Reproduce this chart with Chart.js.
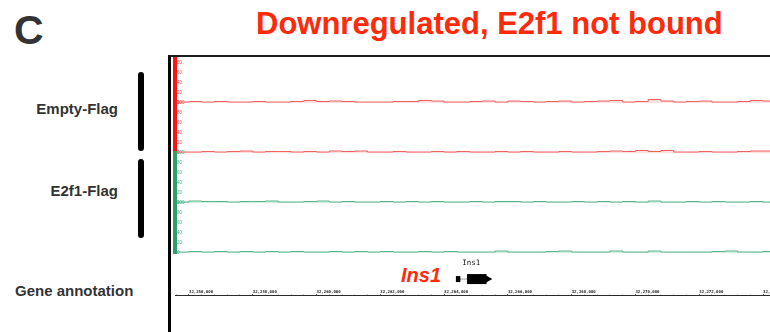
<!DOCTYPE html>
<html>
<head>
<meta charset="utf-8">
<script src="https://cdn.jsdelivr.net/npm/chart.js@4.4.1/dist/chart.umd.min.js"></script>
<style>
  html, body { margin: 0; padding: 0; background: #fff; }
  body { width: 770px; height: 332px; position: relative; overflow: hidden; font-family: "Liberation Sans", Arial, sans-serif; }
  .letter { position: absolute; left: 14px; top: 10px; font-size: 41px; line-height: 41px; font-weight: bold; color: #333; }
  .title { position: absolute; left: 256px; top: 8px; font-size: 31px; line-height: 31px; font-weight: bold; color: #ff2a0a; white-space: nowrap; }
  .track-label { position: absolute; font-size: 15px; line-height: 15px; font-weight: bold; color: #333; white-space: nowrap; }
  .bracket { position: absolute; left: 138px; width: 6px; background: #000; border-radius: 3px; }
  .gene-tag { position: absolute; left: 401px; top: 265px; font-size: 20px; line-height: 20px; font-weight: bold; font-style: italic; color: #ff2a0a; }
  #panel { position: absolute; left: 168px; top: 55px; width: 599px; height: 275px; border-top: 2px solid #1e1e1e; border-left: 3px solid #000; }
  #panel canvas { display: block; }
</style>
</head>
<body>
<div class="letter">C</div>
<div class="title">Downregulated, E2f1 not bound</div>

<div class="bracket" style="top:72px; height:79px;"></div>
<div class="bracket" style="top:159px; height:79px;"></div>
<div class="track-label" style="right:652px; top:101px;">Empty-Flag</div>
<div class="track-label" style="right:652px; top:183px;">E2f1-Flag</div>
<div class="track-label" style="left:15px; top:283px;">Gene annotation</div>
<div class="gene-tag">Ins1</div>

<div id="panel"><canvas id="tracks" width="599" height="275"></canvas></div>

<script>
// visible locus (bp)
const locus = [32255562, 32274219];
const rulerTicks = [32256000, 32258000, 32260000, 32262000, 32264000,
  32266000, 32268000, 32270000, 32272000, 32274000];

// 400 bp coverage bins
const binStarts = [32255600, 32256000, 32256400, 32256800, 32257200, 32257600, 32258000, 32258400,
  32258800, 32259200, 32259600, 32260000, 32260400, 32260800, 32261200, 32261600,
  32262000, 32262400, 32262800, 32263200, 32263600, 32264000, 32264400, 32264800,
  32265200, 32265600, 32266000, 32266400, 32266800, 32267200, 32267600, 32268000,
  32268400, 32268800, 32269200, 32269600, 32270000, 32270400, 32270800, 32271200,
  32271600, 32272000, 32272400, 32272800, 32273200, 32273600, 32274000, 32274400];

const emptyRep1 = [2,3,2,3,2,2,3,2,2,3,5,3,4,3,2,2,2,3,3,5,4,2,2,3,4,2,4,3,2,3,4,2,3,4,5,2,3,7,4,2,3,4,2,2,3,5,4,4];
const emptyRep2 = [2,2,3,2,3,4,2,3,3,2,3,2,4,3,4,2,2,3,2,2,3,2,3,2,2,3,2,3,2,2,3,2,2,3,4,3,5,3,5,2,2,3,2,2,3,4,4,3];
const e2f1Rep1  = [2,4,3,3,2,3,3,4,2,2,3,4,2,3,2,2,3,2,3,2,3,2,2,3,2,3,3,2,3,2,2,3,2,3,2,3,2,4,2,2,3,2,3,2,2,3,2,2];
const e2f1Rep2  = [2,3,2,3,2,3,2,3,2,3,2,2,3,2,3,2,3,2,2,3,2,3,2,2,2,4,2,2,2,3,4,2,2,2,4,2,2,4,2,2,2,2,3,4,2,2,3,3];

// gene model
const geneName = 'Ins1';
const ins1Utr = [32264370, 32264510];
const ins1Intron = [32264510, 32264720];
const ins1Cds = [32264720, 32265330];

const RED = '#ff1414';
const GREEN = '#2f9e68';
const GENE_ROW = 0.67;

// keep the chart area from shrinking around tick labels
const noPad = (s) => { s.paddingLeft = 0; s.paddingRight = 0; s.paddingTop = 0; s.paddingBottom = 0; };

function coverage(values, axis, line, fillCol) {
  return {
    type: 'line',
    data: values.map((v, i) => ({ x: binStarts[i], y: v })),
    yAxisID: axis,
    stepped: true,
    borderColor: line,
    backgroundColor: fillCol,
    borderWidth: 1,
    fill: 'origin',
    pointRadius: 0,
  };
}

function segment(range, width, color, dash) {
  return {
    type: 'line',
    data: [{ x: range[0], y: GENE_ROW }, { x: range[1], y: GENE_ROW }],
    yAxisID: 'gy',
    borderColor: color,
    borderWidth: width,
    borderCapStyle: 'butt',
    borderDash: dash || [],
    pointRadius: 0,
    fill: false,
  };
}

function trackAxis(weight, max, color, tickColor) {
  return {
    type: 'linear',
    position: 'left',
    stack: 'tracks',
    stackWeight: max === 100 ? 50 : 46,
    weight: weight,
    min: 0,
    max: max,
    afterFit: noPad,
    grid: { display: false, drawTicks: false },
    border: { display: true, color: color, width: 4 },
    ticks: {
      stepSize: 20,
      includeBounds: false,
      autoSkip: false,
      mirror: true,
      padding: 2,
      color: tickColor,
      font: { size: 4.5 },
    },
  };
}

const geneLabel = {
  id: 'geneLabel',
  afterDatasetsDraw(chart) {
    const { ctx, scales } = chart;
    ctx.save();
    ctx.font = '7.5px "DejaVu Sans Mono", monospace';
    ctx.fillStyle = '#111';
    ctx.textAlign = 'center';
    ctx.textBaseline = 'middle';
    ctx.fillText(geneName, scales.x.getPixelForValue((ins1Utr[0] + ins1Cds[1]) / 2), scales.gy.getPixelForValue(0.873));
    ctx.restore();
  }
};

const ctx = document.getElementById('tracks').getContext('2d');
const browser = new Chart(ctx, {
  data: {
    datasets: [
      coverage(emptyRep1, 't1', 'rgba(240,70,70,0.85)', 'rgba(255,150,150,0.3)'),
      coverage(emptyRep2, 't2', 'rgba(240,70,70,0.85)', 'rgba(255,150,150,0.3)'),
      coverage(e2f1Rep1, 't3', 'rgba(50,165,110,0.8)', 'rgba(120,200,155,0.3)'),
      coverage(e2f1Rep2, 't4', 'rgba(50,165,110,0.8)', 'rgba(120,200,155,0.3)'),
      segment(ins1Utr, 6, '#000'),
      segment(ins1Intron, 1, '#444', [1, 1]),
      segment(ins1Cds, 10, '#000'),
      {
        type: 'line',
        data: [{ x: ins1Cds[1], y: GENE_ROW }],
        yAxisID: 'gy',
        showLine: false,
        pointStyle: 'triangle',
        rotation: 90,
        pointRadius: 5.8,
        pointBackgroundColor: '#000',
        pointBorderWidth: 0,
      },
    ],
  },
  options: {
    responsive: false,
    animation: false,
    layout: { padding: 0, autoPadding: false },
    plugins: { legend: { display: false }, tooltip: { enabled: false } },
    scales: {
      x: {
        type: 'linear',
        min: locus[0],
        max: locus[1],
        position: { gy: 0.456 },
        afterBuildTicks: (s) => { s.ticks = rulerTicks.map(v => ({ value: v })); },
        afterFit: noPad,
        grid: { drawOnChartArea: false, drawTicks: true, tickLength: -2, color: '#333' },
        border: { display: true, color: '#2b2b2b', width: 1 },
        ticks: {
          autoSkip: false,
          maxRotation: 0,
          align: 'start',
          padding: -4,
          color: '#222',
          font: { family: '"DejaVu Sans Mono", monospace', size: 4, weight: 'bold' },
          callback: (v) => v.toLocaleString('en-US'),
        },
      },
      xm: {
        type: 'linear',
        axis: 'x',
        min: locus[0],
        max: locus[1],
        position: { gy: 0.456 },
        afterBuildTicks: (s) => { s.ticks = binStarts.filter(v => v >= locus[0] && v <= locus[1]).map(v => ({ value: v })); },
        afterFit: noPad,
        grid: { drawOnChartArea: false, drawTicks: true, tickLength: -1.5, color: '#999' },
        border: { display: false },
        ticks: { display: false },
      },
      t1: trackAxis(5, 92, RED, 'rgba(255,50,50,0.9)'),
      t2: trackAxis(4, 100, RED, 'rgba(255,50,50,0.9)'),
      t3: trackAxis(3, 100, GREEN, 'rgba(50,165,110,0.9)'),
      t4: trackAxis(2, 100, GREEN, 'rgba(50,165,110,0.9)'),
      gy: {
        type: 'linear',
        position: 'left',
        stack: 'tracks',
        stackWeight: 79,
        weight: 1,
        min: 0,
        max: 1,
        afterFit: noPad,
        grid: { display: false, drawTicks: false },
        border: { display: false },
        ticks: { display: false },
      },
    },
  },
  plugins: [geneLabel],
});
</script>
</body>
</html>
